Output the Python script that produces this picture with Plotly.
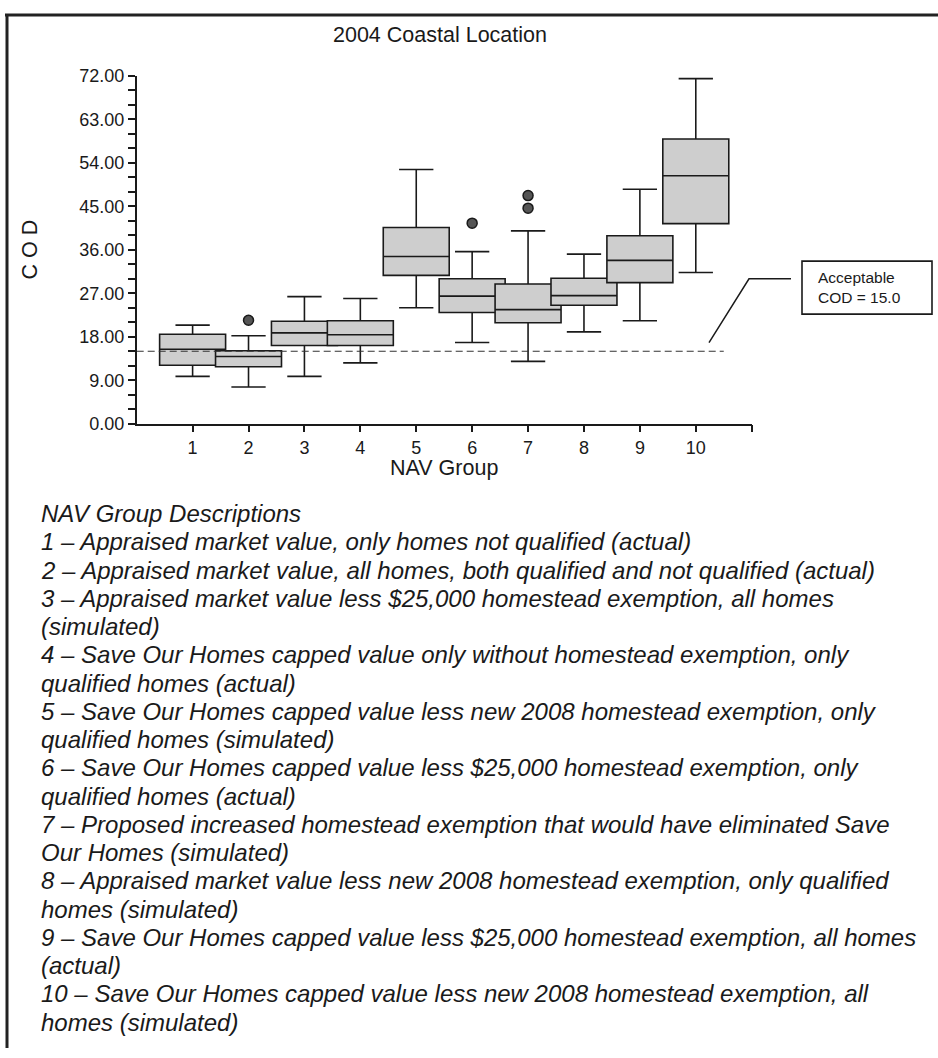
import plotly.graph_objects as go

# NAV groups and box-plot statistics (COD)
groups = [1, 2, 3, 4, 5, 6, 7, 8, 9, 10]
group_labels = ["1", "2", "3", "4", "5", "6", "7", "8", "9", "10"]
lower_whisker = [9.8, 7.6, 9.8, 12.6, 24.0, 16.8, 12.9, 19.0, 21.3, 31.3]
q1 = [12.1, 11.8, 16.2, 16.2, 30.7, 23.0, 20.9, 24.5, 29.2, 41.4]
median = [15.4, 13.9, 18.8, 18.4, 34.6, 26.4, 23.6, 26.5, 33.8, 51.3]
q3 = [18.5, 15.1, 21.2, 21.3, 40.6, 30.0, 28.9, 30.1, 38.9, 58.9]
upper_whisker = [20.4, 18.2, 26.3, 25.9, 52.6, 35.6, 39.9, 35.1, 48.5, 71.4]

# Outlying observations
outlier_group = [2, 6, 7, 7]
outlier_cod = [21.4, 41.5, 47.2, 44.6]

acceptable_cod = 15.0

title_text = "2004 Coastal Location"
x_title = "NAV Group"
y_title = "C O D"
callout_text = ["Acceptable", "COD = 15.0"]

description_heading = "NAV Group Descriptions"
descriptions = [
    ["1 \u2013 Appraised market value, only homes not qualified (actual)"],
    ["2 \u2013 Appraised market value, all homes, both qualified and not qualified (actual)"],
    ["3 \u2013 Appraised market value less $25,000 homestead exemption, all homes",
     "(simulated)"],
    ["4 \u2013 Save Our Homes capped value only without homestead exemption, only",
     "qualified homes (actual)"],
    ["5 \u2013 Save Our Homes capped value less new 2008 homestead exemption, only",
     "qualified homes (simulated)"],
    ["6 \u2013 Save Our Homes capped value less $25,000 homestead exemption, only",
     "qualified homes (actual)"],
    ["7 \u2013 Proposed increased homestead exemption that would have eliminated Save",
     "Our Homes (simulated)"],
    ["8 \u2013 Appraised market value less new 2008 homestead exemption, only qualified",
     "homes (simulated)"],
    ["9 \u2013 Save Our Homes capped value less $25,000 homestead exemption, all homes",
     "(actual)"],
    ["10 \u2013 Save Our Homes capped value less new 2008 homestead exemption, all",
     "homes (simulated)"],
]

W, H = 938, 1058
FONT = "Liberation Sans, Arial, Helvetica, sans-serif"
INK = "#1a1a1a"
BOX_FILL = "#cecece"


def px(x):
    return x / W


def py(y):
    return 1 - y / H


fig = go.Figure()

for i, g in enumerate(groups):
    fig.add_trace(go.Box(
        x=[g],
        q1=[q1[i]],
        median=[median[i]],
        q3=[q3[i]],
        lowerfence=[lower_whisker[i]],
        upperfence=[upper_whisker[i]],
        width=1.18,
        whiskerwidth=0.52,
        fillcolor=BOX_FILL,
        line=dict(color=INK, width=1.6),
        boxpoints=False,
        showlegend=False,
        hoverinfo="skip",
    ))

fig.add_trace(go.Scatter(
    x=outlier_group,
    y=outlier_cod,
    mode="markers",
    marker=dict(size=10, color="#555555", line=dict(color=INK, width=1.5)),
    showlegend=False,
    hoverinfo="skip",
))

shapes = []
# Acceptable COD reference line
shapes.append(dict(type="line", xref="x", yref="y", x0=0, x1=10.5,
                   y0=acceptable_cod, y1=acceptable_cod, layer="above",
                   line=dict(color="#333333", width=1.2, dash="7px,4px")))
# Callout leader and box
shapes.append(dict(type="path", xref="paper", yref="paper",
                   path=f"M {px(709)} {py(339)} L {px(749)} {py(274)} L {px(791)} {py(274)}",
                   line=dict(color=INK, width=1.5)))
shapes.append(dict(type="rect", xref="paper", yref="paper",
                   x0=px(802), x1=px(932), y0=py(256), y1=py(310),
                   line=dict(color=INK, width=1.6), fillcolor="white"))
# Page frame (top and left rules)
shapes.append(dict(type="line", xref="paper", yref="paper",
                   x0=px(5), x1=1, y0=py(5), y1=py(5),
                   line=dict(color="#222222", width=3)))
shapes.append(dict(type="line", xref="paper", yref="paper",
                   x0=px(7), x1=px(7), y0=py(4), y1=0,
                   line=dict(color="#222222", width=3)))

annotations = []
annotations.append(dict(text=title_text, xref="paper", yref="paper",
                        x=px(440), y=py(25), xanchor="center", yanchor="middle",
                        showarrow=False, font=dict(family=FONT, size=21.5, color=INK)))
annotations.append(dict(text=x_title, xref="paper", yref="paper",
                        x=px(444), y=py(467), xanchor="center", yanchor="middle",
                        showarrow=False, font=dict(family=FONT, size=21.5, color=INK)))
annotations.append(dict(text=y_title, xref="paper", yref="paper",
                        x=px(30), y=py(244), xanchor="center", yanchor="middle",
                        textangle=-90, showarrow=False,
                        font=dict(family=FONT, size=21.5, color=INK)))
annotations.append(dict(text="<br>".join(callout_text), xref="paper", yref="paper",
                        x=px(816), y=py(283), xanchor="left", yanchor="middle",
                        align="left", showarrow=False,
                        font=dict(family=FONT, size=15.5, color=INK)))

# Group description block, one annotation per printed line
lines = [description_heading] + [ln for d in descriptions for ln in d]
y0, step = 513.3, 28.8
for k, ln in enumerate(lines):
    annotations.append(dict(text=ln, xref="paper", yref="paper",
                            x=px(39), y=py(y0 + k * step),
                            xanchor="left", yanchor="middle", showarrow=False,
                            font=dict(family=FONT, size=24, color=INK, style="italic")))

fig.update_layout(
    width=W, height=H,
    margin=dict(l=0, r=0, t=0, b=0),
    paper_bgcolor="white",
    plot_bgcolor="white",
    boxmode="overlay",
    showlegend=False,
    shapes=shapes,
    annotations=annotations,
    xaxis=dict(
        domain=[px(136.7), px(751.7)],
        range=[0, 11],
        tickmode="array",
        tickvals=groups + [11],
        ticktext=group_labels + [""],
        ticks="outside", ticklen=7, tickwidth=1.5, tickcolor=INK,
        showline=True, linecolor=INK, linewidth=1.5,
        showgrid=False, zeroline=False,
        tickfont=dict(family=FONT, size=18, color=INK),
    ),
    yaxis=dict(
        domain=[py(421.7), py(67)],
        range=[0, 72],
        tick0=0, dtick=9, tickformat=".2f",
        ticks="outside", ticklen=7, tickwidth=1.5, tickcolor=INK,
        minor=dict(dtick=3, ticks="outside", ticklen=7, tickwidth=1.5, tickcolor=INK,
                   showgrid=False),
        showline=True, linecolor=INK, linewidth=1.5,
        showgrid=False, zeroline=False,
        tickfont=dict(family=FONT, size=18, color=INK),
    ),
)

fig.write_html("out.html")
